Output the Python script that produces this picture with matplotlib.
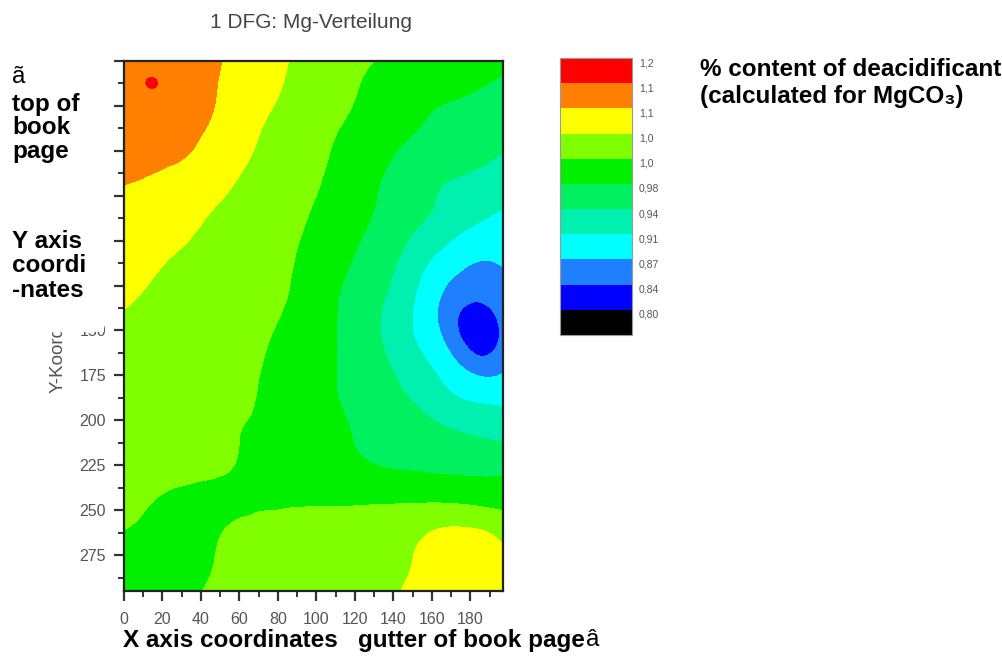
import numpy as np
import matplotlib
matplotlib.use("Agg")
import matplotlib.pyplot as plt
import matplotlib.tri as mtri
from matplotlib.patches import Rectangle
from matplotlib.ticker import MultipleLocator

plt.rcParams['font.family'] = ['Liberation Sans', 'DejaVu Sans']

# ---------------- data ----------------
title = "1 DFG: Mg-Verteilung"
y_label_visible = "Y-Koord"   # the rest of "Y-Koordinate" is hidden behind the note box
x_nodes = [0, 15, 30, 45, 60, 75, 90, 105, 120, 135, 150, 165, 184, 197]
y_nodes = [0, 13, 30, 50, 70, 90, 110, 130, 149, 170, 190, 210, 230, 245, 260, 278, 295]
z_rows = [
    [1.118, 1.121, 1.113, 1.097, 1.078, 1.061, 1.046, 1.036, 1.026, 1.017, 1.008, 0.999, 0.988, 0.982],
    [1.121, 1.1305, 1.117, 1.095, 1.076, 1.058, 1.043, 1.032, 1.022, 1.010, 1.000, 0.993, 0.982, 0.977],
    [1.117, 1.119, 1.109, 1.091, 1.068, 1.050, 1.038, 1.027, 1.017, 1.002, 0.988, 0.975, 0.966, 0.960],
    [1.108, 1.104, 1.096, 1.076, 1.057, 1.043, 1.032, 1.022, 1.006, 0.988, 0.972, 0.962, 0.950, 0.940],
    [1.089, 1.082, 1.070, 1.059, 1.047, 1.037, 1.027, 1.017, 0.997, 0.977, 0.958, 0.940, 0.928, 0.922],
    [1.075, 1.068, 1.058, 1.047, 1.038, 1.031, 1.023, 1.010, 0.990, 0.969, 0.945, 0.930, 0.910, 0.902],
    [1.062, 1.055, 1.046, 1.038, 1.032, 1.026, 1.019, 1.000, 0.978, 0.953, 0.928, 0.900, 0.873, 0.877],
    [1.054, 1.047, 1.040, 1.034, 1.029, 1.023, 1.016, 0.991, 0.968, 0.942, 0.914, 0.870, 0.845, 0.852],
    [1.045, 1.041, 1.036, 1.031, 1.027, 1.021, 1.012, 0.989, 0.965, 0.937, 0.910, 0.866, 0.826, 0.845],
    [1.042, 1.038, 1.034, 1.029, 1.025, 1.018, 1.005, 0.987, 0.967, 0.945, 0.925, 0.897, 0.855, 0.862],
    [1.041, 1.037, 1.033, 1.028, 1.023, 1.016, 1.002, 0.986, 0.973, 0.956, 0.940, 0.924, 0.909, 0.906],
    [1.040, 1.036, 1.032, 1.026, 1.020, 1.012, 1.000, 0.990, 0.979, 0.969, 0.959, 0.950, 0.941, 0.937],
    [1.035, 1.032, 1.028, 1.023, 1.016, 1.006, 0.999, 0.995, 0.990, 0.985, 0.983, 0.980, 0.977, 0.977],
    [1.030, 1.020, 1.010, 1.008, 1.012, 1.014, 1.015, 1.015, 1.015, 1.016, 1.017, 1.017, 1.012, 1.008],
    [1.021, 1.012, 1.006, 1.012, 1.026, 1.030, 1.032, 1.034, 1.036, 1.040, 1.043, 1.050, 1.049, 1.040],
    [1.005, 1.000, 1.005, 1.018, 1.030, 1.034, 1.036, 1.038, 1.041, 1.045, 1.050, 1.060, 1.060, 1.052],
    [1.003, 0.998, 1.008, 1.024, 1.031, 1.034, 1.037, 1.039, 1.042, 1.046, 1.054, 1.064, 1.066, 1.060],
]
levels = [0.76, 0.80, 0.84, 0.87, 0.91, 0.94, 0.98, 1.02, 1.05, 1.09, 1.13, 1.20]
level_labels = ["0,80", "0,84", "0,87", "0,91", "0,94", "0,98", "1,0", "1,0", "1,1", "1,1", "1,2"]
band_colors = ["#000000", "#0000FF", "#1E80FF", "#00FFFF", "#00F0B0", "#00F060",
               "#00F000", "#80FF00", "#FFFF00", "#FF8000", "#FF0000"]

# ---------------- figure ----------------
W, H = 1002, 663
fig = plt.figure(figsize=(W / 100, H / 100), dpi=100)

def fx(px):
    return px / W

def fy(py):
    return 1 - py / H

ax = fig.add_axes([fx(124), fy(591), fx(503) - fx(124), fy(61) - fy(591)])

X, Y = np.meshgrid(np.array(x_nodes, float), np.array(y_nodes, float))
Z = np.array(z_rows)
nx, ny = len(x_nodes), len(y_nodes)
tris = []
for j in range(ny - 1):
    for i in range(nx - 1):
        a = j * nx + i
        tris.append([a, a + 1, a + nx + 1])
        tris.append([a, a + nx + 1, a + nx])
tri = mtri.Triangulation(X.ravel(), Y.ravel(), np.array(tris))
interp = mtri.CubicTriInterpolator(tri, Z.ravel(), kind='min_E')
refiner = mtri.UniformTriRefiner(tri)
tri_r, z_r = refiner.refine_field(Z.ravel(), triinterpolator=interp, subdiv=4)
cs = ax.tricontourf(tri_r, z_r, levels=levels, colors=band_colors)

ax.set_xlim(0, 197)
ax.set_ylim(295, 0)
ax.set_xticks(np.arange(0, 181, 20))
ax.set_yticks(np.arange(0, 276, 25))
ax.xaxis.set_minor_locator(MultipleLocator(10))
ax.yaxis.set_minor_locator(MultipleLocator(12.5))
ax.tick_params(which='major', direction='out', length=7, width=1.6, color='#333333',
               labelsize=11.5, labelcolor='#555555')
ax.tick_params(axis='y', which='major', pad=6)
ax.tick_params(axis='x', which='major', pad=8)
ax.tick_params(which='minor', direction='out', length=4, width=1.4, color='#333333')
for s in ax.spines.values():
    s.set_linewidth(1.6)
    s.set_color('#222222')
# labels hidden behind the annotation box in the original
for v, lab in zip(ax.get_yticks(), ax.get_yticklabels()):
    if v < 150:
        lab.set_visible(False)

fig.text(fx(58), fy(393), y_label_visible, rotation=90, ha='center', va='bottom',
         fontsize=13.5, color='#555555')

fig.text(fx(311), fy(23), title, ha='center', va='center', fontsize=15, color='#444444')

# colour scale
cax = fig.add_axes([fx(560), fy(335), fx(632) - fx(560), fy(58) - fy(335)])
cb = fig.colorbar(cs, cax=cax, spacing='uniform')
cb.set_ticks(levels[1:])
cb.set_ticklabels(level_labels)
cb.ax.tick_params(length=0, labelsize=7.5, labelcolor='#555555', pad=5)
for lab in cb.ax.get_yticklabels():
    lab.set_verticalalignment('top')
cb.outline.set_edgecolor('#999999')
cb.outline.set_linewidth(0.8)

# white box with annotations covering the left labels
fig.patches.append(Rectangle((0, fy(332)), fx(104), fy(44) - fy(332),
                             transform=fig.transFigure, facecolor='white',
                             edgecolor='none', zorder=5))
fig.text(fx(12), fy(77), "ã", fontsize=17.5, ha='left', va='center', zorder=6)
fig.text(fx(12), fy(128), "top of\nbook\npage", fontsize=17.5, fontweight='bold',
         ha='left', va='center', linespacing=1.05, zorder=6)
fig.text(fx(12), fy(266), "Y axis\ncoordi\n-nates", fontsize=17.5, fontweight='bold',
         ha='left', va='center', linespacing=1.07, zorder=6)

fig.text(fx(700), fy(83), "% content of deacidificant\n(calculated for MgCO₃)",
         fontsize=17.5, fontweight='bold', ha='left', va='center', linespacing=1.2)

t1 = fig.text(fx(123), fy(640), "X axis coordinates   gutter of book page",
              fontsize=17.5, fontweight='bold', ha='left', va='center')
fig.canvas.draw()
bb = t1.get_window_extent()
fig.text(bb.x1 / W + 0.001, fy(640), "â", fontsize=17.5, ha='left', va='center')

fig.savefig("out.png", dpi=100)
